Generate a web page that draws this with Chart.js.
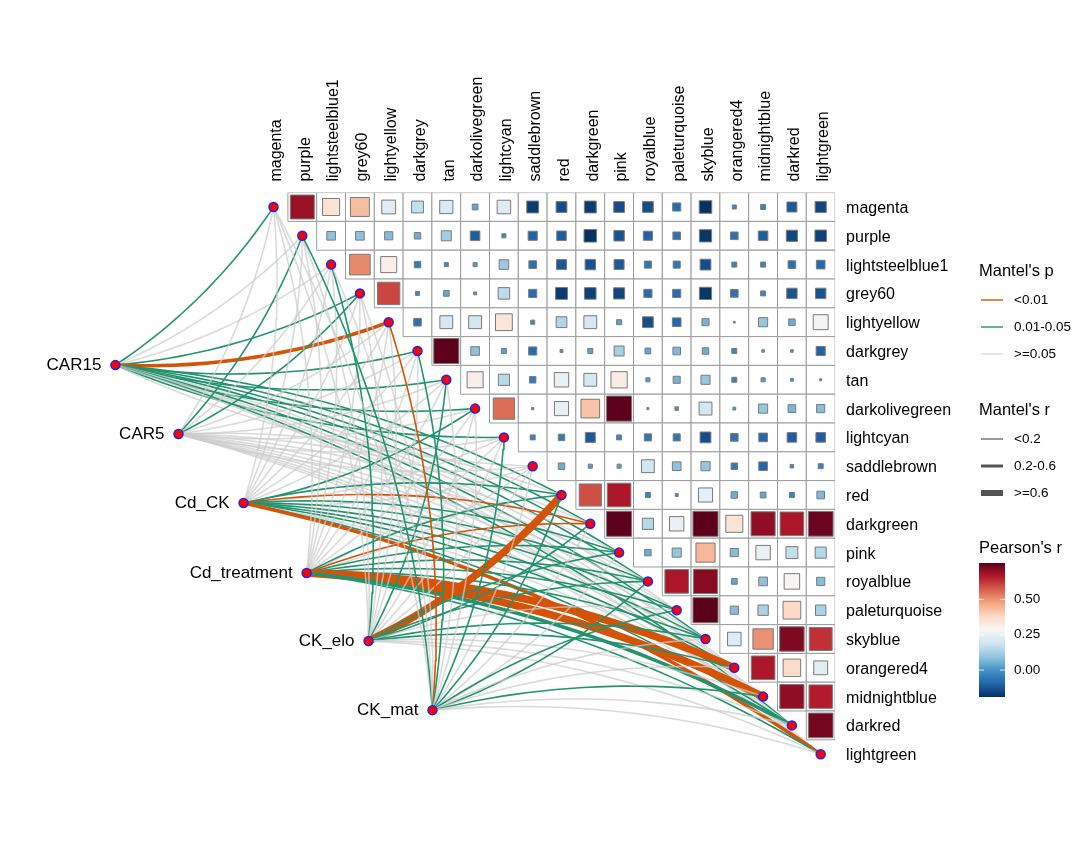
<!DOCTYPE html>
<html>
<head>
<meta charset="utf-8">
<title>Mantel links and Pearson correlation</title>
<script src="https://cdn.jsdelivr.net/npm/chart.js@4/dist/chart.umd.min.js"></script>
<style>
    body { margin: 0; background: #fff; }
    canvas { display: block; }
</style>
</head>
<body>
<canvas id="chart" width="1080" height="846"></canvas>
<script>
const modules = ['magenta', 'purple', 'lightsteelblue1', 'grey60', 'lightyellow', 'darkgrey', 'tan',
    'darkolivegreen', 'lightcyan', 'saddlebrown', 'red', 'darkgreen', 'pink', 'royalblue',
    'paleturquoise', 'skyblue', 'orangered4', 'midnightblue', 'darkred', 'lightgreen'];

// Pearson's r, upper triangle, one array per row (first value is the column right of the diagonal)
const rMagenta = [0.69, 0.35, 0.43, 0.23, 0.17, 0.21, 0.04, 0.22, -0.17, -0.14, -0.17, -0.14, -0.14, -0.08, -0.19, -0.02, -0.03, -0.12, -0.15];
const rPurple = [0.09, 0.09, 0.08, 0.05, 0.12, -0.11, -0.02, -0.10, -0.11, -0.19, -0.13, -0.10, -0.07, -0.18, -0.07, -0.11, -0.15, -0.16];
const rLightsteelblue1 = [0.51, 0.31, -0.05, -0.02, 0.02, 0.11, -0.07, -0.12, -0.13, -0.12, -0.06, -0.06, -0.14, -0.03, -0.03, -0.07, -0.09];
const rGrey60 = [0.60, -0.02, 0.04, 0.01, 0.16, -0.08, -0.17, -0.16, -0.15, -0.08, -0.08, -0.18, -0.07, -0.03, -0.13, -0.13];
const rLightyellow = [-0.07, 0.20, 0.20, 0.34, -0.02, 0.14, 0.20, 0.03, -0.14, -0.09, 0.06, 0.004, 0.10, 0.05, 0.27];
const rDarkgrey = [0.76, 0.09, 0.03, -0.08, 0.01, 0.03, 0.12, 0.04, 0.07, 0.05, -0.03, 0.008, 0.008, -0.10];
const rTan = [0.31, 0.15, -0.05, 0.25, 0.20, 0.32, 0.02, 0.06, 0.10, -0.03, 0.02, 0.01, 0.005];
const rDarkolivegreen = [0.55, 0.006, 0.24, 0.42, 0.76, 0.005, 0.015, 0.20, 0.01, 0.10, 0.07, 0.08];
const rLightcyan = [-0.03, -0.05, -0.12, -0.03, -0.06, -0.06, -0.14, -0.07, -0.09, -0.11, -0.11];
const rSaddlebrown = [0.05, 0.02, 0.02, 0.20, 0.09, 0.10, -0.05, -0.09, -0.015, -0.03];
const rRed = [0.59, 0.67, -0.03, -0.01, 0.24, 0.05, 0.04, -0.03, 0.07];
const rDarkgreen = [0.76, 0.15, 0.25, 0.76, 0.35, 0.70, 0.67, 0.74];
const rPink = [0.05, 0.10, 0.44, 0.08, 0.25, 0.17, 0.15];
const rRoyalblue = [0.67, 0.71, 0.04, 0.09, 0.29, 0.08];
const rPaleturquoise = [0.76, 0.08, 0.13, 0.38, 0.13];
const rSkyblue = [0.22, 0.50, 0.72, 0.63];
const rOrangered4 = [0.67, 0.37, 0.23];
const rMidnightblue = [0.70, 0.66];
const rDarkred = [0.73];
const corrRows = [rMagenta, rPurple, rLightsteelblue1, rGrey60, rLightyellow, rDarkgrey, rTan, rDarkolivegreen,
    rLightcyan, rSaddlebrown, rRed, rDarkgreen, rPink, rRoyalblue, rPaleturquoise, rSkyblue, rOrangered4,
    rMidnightblue, rDarkred];

const envNames = ['CAR15', 'CAR5', 'Cd_CK', 'Cd_treatment', 'CK_elo', 'CK_mat'];
// anchor of each variable, in grid units of the matrix
const envCol = [-5.49, -3.30, -1.04, 1.15, 3.30, 5.52];
const envRow = [5.49, 7.88, 10.28, 12.71, 15.07, 17.47];

// Mantel's p class per module: 0 <0.01, 1 0.01-0.05, 2 >=0.05
const pCar15 = [1, 2, 2, 1, 0, 1, 1, 1, 1, 2, 1, 1, 1, 1, 2, 1, 2, 2, 1, 2];
const pCar5 = [2, 1, 2, 1, 2, 2, 2, 2, 2, 2, 2, 2, 2, 2, 2, 2, 2, 2, 2, 2];
const pCdCk = [2, 2, 2, 2, 2, 2, 2, 1, 2, 2, 1, 0, 1, 1, 1, 1, 1, 2, 1, 0];
const pCdTreatment = [2, 2, 2, 2, 2, 2, 2, 2, 2, 2, 1, 0, 1, 1, 1, 1, 0, 0, 1, 1];
const pCkElo = [2, 2, 1, 2, 2, 2, 1, 2, 2, 2, 0, 1, 1, 1, 2, 1, 1, 2, 2, 2];
const pCkMat = [2, 1, 2, 2, 0, 1, 2, 2, 1, 2, 1, 2, 2, 1, 1, 2, 2, 1, 2, 2];
const mantelP = [pCar15, pCar5, pCdCk, pCdTreatment, pCkElo, pCkMat];

// Mantel's r class per module: 0 <0.2, 1 0.2-0.6, 2 >=0.6
const mrCar15 = [0, 0, 0, 0, 1, 0, 0, 0, 0, 0, 0, 0, 0, 0, 0, 0, 0, 0, 0, 0];
const mrCar5 = [0, 0, 0, 0, 0, 0, 0, 0, 0, 0, 0, 0, 0, 0, 0, 0, 0, 0, 0, 0];
const mrCdCk = [0, 0, 0, 0, 0, 0, 0, 0, 0, 0, 0, 0, 0, 0, 0, 0, 0, 0, 0, 1];
const mrCdTreatment = [0, 0, 0, 0, 0, 0, 0, 0, 0, 0, 0, 0, 0, 0, 0, 0, 2, 2, 1, 0];
const mrCkElo = [0, 0, 0, 0, 0, 0, 0, 0, 0, 0, 2, 0, 0, 0, 0, 0, 0, 0, 0, 0];
const mrCkMat = [0, 0, 0, 0, 0, 0, 0, 0, 0, 0, 0, 0, 0, 0, 0, 0, 0, 0, 0, 0];
const mantelR = [mrCar15, mrCar5, mrCdCk, mrCdTreatment, mrCkElo, mrCkMat];

const mantelPLabels = ['<0.01', '0.01-0.05', '>=0.05'];
const mantelRLabels = ['<0.2', '0.2-0.6', '>=0.6'];
const pearsonTicks = [0.5, 0.25, 0];

const pColors = ['#D55306', '#23936F', 'rgba(204,204,204,0.72)'];
const rWidths = [1.6, 3.6, 7.5];
const rdBu = ['#053061', '#2166AC', '#4393C3', '#92C5DE', '#D1E5F0', '#F7F7F7', '#FDDBC7', '#F4A582', '#D6604D', '#B2182B', '#5C001C'];
const R_MIN = -0.19, R_MAX = 0.757;
const FONT = '"Liberation Sans", Arial, sans-serif';

function hexRgb(hex) {
    return [1, 3, 5].map(i => parseInt(hex.substr(i, 2), 16));
}

function colorFor(r) {
    const t = Math.min(1, Math.max(0, (r - R_MIN) / (R_MAX - R_MIN))) * (rdBu.length - 1);
    const i = Math.min(rdBu.length - 2, Math.floor(t));
    const a = hexRgb(rdBu[i]), b = hexRgb(rdBu[i + 1]);
    const c = a.map((v, k) => Math.round(v + (b[k] - v) * (t - i)));
    return `rgb(${c[0]},${c[1]},${c[2]})`;
}

// quadratic curve in grid units, bending to one side of the chord like geom_curve
function curvePoints(x0, y0, x1, y1, side) {
    const cx = (x0 + x1) / 2 - side * 0.1 * (y1 - y0);
    const cy = (y0 + y1) / 2 + side * 0.1 * (x1 - x0);
    const pts = [];
    for (let k = 0; k <= 24; k++) {
        const t = k / 24, u = 1 - t;
        pts.push({ x: u * u * x0 + 2 * u * t * cx + t * t * x1, y: u * u * y0 + 2 * u * t * cy + t * t * y1 });
    }
    return pts;
}

function unitPx(ctx) {
    const x = ctx.chart.scales.x;
    return Math.abs(x.getPixelForValue(1) - x.getPixelForValue(0));
}

const cells = [];
corrRows.forEach((row, r) => row.forEach((v, k) => cells.push({ x: r + k + 1, y: r, v: v })));

const datasets = [];
datasets.push({
    data: cells,
    pointStyle: 'rect',
    pointRadius: ctx => unitPx(ctx) / Math.SQRT2,
    backgroundColor: '#fff',
    borderColor: '#9c9c9c',
    borderWidth: 1
});
datasets.push({
    data: cells,
    pointStyle: 'rect',
    pointRadius: ctx => unitPx(ctx) * Math.sqrt(Math.abs(ctx.raw.v)) / Math.SQRT2,
    backgroundColor: ctx => colorFor(ctx.raw.v),
    borderColor: '#7a7a7a',
    borderWidth: 1
});
envNames.forEach((name, e) => {
    modules.forEach((m, i) => {
        // lower half of the matrix bends the other way, unless the link climbs steeply
        const climb = (envRow[e] - i) / (i - envCol[e]);
        const side = i < 10 || climb > 0.5 ? 1 : -1;
        datasets.push({
            label: name + '-' + m,
            data: curvePoints(envCol[e], envRow[e], i, i, side),
            showLine: true,
            pointRadius: 0,
            tension: 0,
            borderColor: pColors[mantelP[e][i]],
            borderWidth: rWidths[mantelR[e][i]]
        });
    });
});
const anchorStyle = { pointRadius: 4.5, backgroundColor: '#FF0000', borderColor: '#2222EE', borderWidth: 1.5 };
datasets.push(Object.assign({ data: modules.map((m, i) => ({ x: i, y: i })) }, anchorStyle));
datasets.push(Object.assign({ data: envNames.map((n, e) => ({ x: envCol[e], y: envRow[e] })) }, anchorStyle));
datasets.forEach((d, i) => { d.order = datasets.length - i; });

const legendPlugin = {
    id: 'legendPlugin',
    afterDraw(chart) {
        const ctx = chart.ctx;
        const x = chart.scales.x, y = chart.scales.y;
        ctx.save();
        ctx.fillStyle = '#000';
        ctx.textBaseline = 'middle';

        // variable names left of their anchors
        ctx.font = '17px ' + FONT;
        ctx.textAlign = 'right';
        envNames.forEach((n, e) => {
            ctx.fillText(n, x.getPixelForValue(envCol[e]) - 14, y.getPixelForValue(envRow[e]) + 0.5);
        });

        ctx.textAlign = 'left';
        ctx.font = '16.5px ' + FONT;
        ctx.fillText("Mantel's p", 979, 271);
        ctx.fillText("Mantel's r", 979, 410);
        ctx.fillText("Pearson's r", 979, 548);

        ctx.font = '13.5px ' + FONT;
        mantelPLabels.forEach((t, i) => {
            const ly = 300 + i * 27;
            ctx.strokeStyle = pColors[i];
            ctx.lineWidth = 1.4;
            ctx.beginPath(); ctx.moveTo(981, ly); ctx.lineTo(1003, ly); ctx.stroke();
            ctx.fillText(t, 1014, ly);
        });
        mantelRLabels.forEach((t, i) => {
            const ly = 439 + i * 27;
            ctx.strokeStyle = '#555';
            ctx.lineWidth = [1.2, 3, 6][i];
            ctx.beginPath(); ctx.moveTo(981, ly); ctx.lineTo(1003, ly); ctx.stroke();
            ctx.fillText(t, 1014, ly);
        });

        // colour bar
        const barTop = 563, barBottom = 697, barLeft = 979, barRight = 1005;
        const grad = ctx.createLinearGradient(0, barBottom, 0, barTop);
        rdBu.forEach((c, i) => grad.addColorStop(i / (rdBu.length - 1), c));
        ctx.fillStyle = grad;
        ctx.fillRect(barLeft, barTop, barRight - barLeft, barBottom - barTop);
        const toBar = v => barBottom - (v - R_MIN) / (R_MAX - R_MIN) * (barBottom - barTop);
        ctx.fillStyle = '#000';
        pearsonTicks.forEach(v => {
            const ly = toBar(v);
            ctx.strokeStyle = 'rgba(255,255,255,0.8)';
            ctx.lineWidth = 1;
            ctx.beginPath(); ctx.moveTo(barLeft, ly); ctx.lineTo(barLeft + 5, ly); ctx.stroke();
            ctx.beginPath(); ctx.moveTo(barRight - 5, ly); ctx.lineTo(barRight, ly); ctx.stroke();
            ctx.fillText(v.toFixed(2), 1014, ly);
        });
        ctx.restore();
    }
};

const moduleTicks = scale => { scale.ticks = modules.map((m, i) => ({ value: i })); };

new Chart(document.getElementById('chart'), {
    type: 'scatter',
    data: { datasets: datasets },
    plugins: [legendPlugin],
    options: {
        responsive: false,
        animation: false,
        devicePixelRatio: 1,
        events: [],
        layout: { padding: { left: 102, right: 0, top: 0, bottom: 77.4 } },
        plugins: { legend: { display: false }, tooltip: { enabled: false } },
        scales: {
            x: {
                type: 'linear',
                position: 'top',
                min: -5.955,
                max: 19.5,
                afterBuildTicks: moduleTicks,
                afterFit: scale => { scale.height = 192.6; },
                grid: { display: false },
                border: { display: false },
                ticks: {
                    autoSkip: false,
                    minRotation: 90,
                    maxRotation: 90,
                    padding: 3,
                    labelOffset: 22,
                    color: '#000',
                    font: { family: FONT, size: 16 },
                    callback: v => modules[v]
                }
            },
            y: {
                type: 'linear',
                position: 'right',
                reverse: true,
                min: -0.5,
                max: 19.5,
                afterBuildTicks: moduleTicks,
                afterFit: scale => { scale.width = 244.9; },
                grid: { display: false },
                border: { display: false },
                ticks: {
                    autoSkip: false,
                    padding: 3,
                    labelOffset: 1.5,
                    color: '#000',
                    font: { family: FONT, size: 16 },
                    callback: v => modules[v]
                }
            }
        }
    }
});
</script>
</body>
</html>
